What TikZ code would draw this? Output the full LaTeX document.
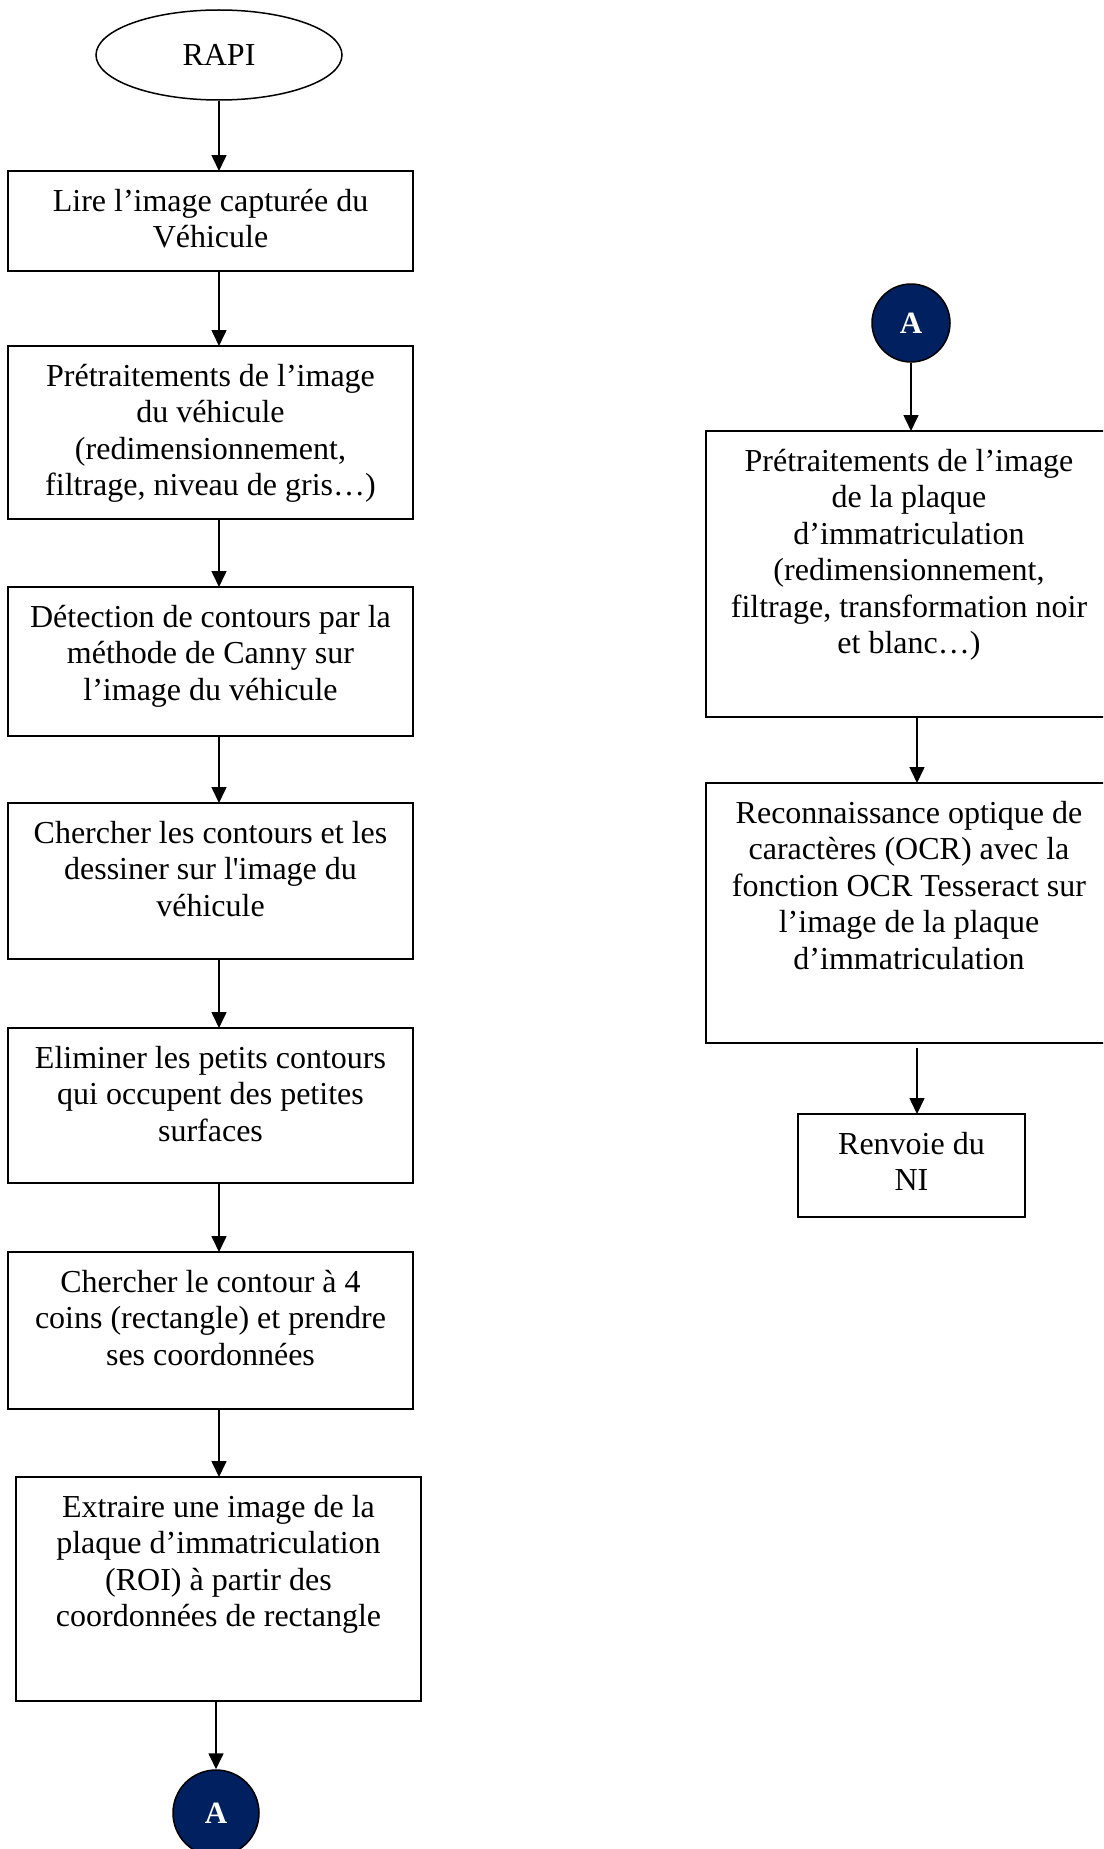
\documentclass[tikz,border=0pt]{standalone}
\usepackage{fontspec}
\setmainfont{Liberation Serif}
\usetikzlibrary{arrows.meta,shapes.geometric}
\definecolor{navy}{HTML}{002060}
\begin{document}
\begin{tikzpicture}[x=1pt,y=-1pt,
  box/.style={draw,line width=1.8pt,rectangle,inner sep=0pt,outer sep=0pt,anchor=north west},
  txt/.style={anchor=north,align=center,inner sep=0pt,font=\fontsize{32}{36.5}\selectfont},
  arr/.style={draw,line width=1.6pt,-{Triangle[width=15pt,length=16pt]}},
  conn/.style={draw=black,line width=1.5pt,fill=navy,circle,inner sep=0pt,text=white,font=\fontsize{31}{31}\selectfont\bfseries}
]
\useasboundingbox (0,0) rectangle (1103,1849);
\fill[white] (0,0) rectangle (1103,1849);
\clip (0,0) rectangle (1103,1849);

% left column
\node[draw,ellipse,line width=1.5pt,minimum width=246pt,minimum height=90pt,inner sep=0pt,font=\fontsize{32}{36.5}\selectfont] (start) at (219,55) {RAPI};

\node[box,minimum width=405pt,minimum height=100pt] (b1) at (8,171) {};
\node[box,minimum width=405pt,minimum height=173pt] (b2) at (8,346) {};
\node[box,minimum width=405pt,minimum height=149pt] (b3) at (8,587) {};
\node[box,minimum width=405pt,minimum height=156pt] (b4) at (8,803) {};
\node[box,minimum width=405pt,minimum height=155pt] (b5) at (8,1028) {};
\node[box,minimum width=405pt,minimum height=157pt] (b6) at (8,1252) {};
\node[box,minimum width=405pt,minimum height=224pt] (b7) at (16,1477) {};
\node[conn,minimum size=86pt] (cA1) at (216,1813) {A};

\node[txt] (t1) at ([yshift=-14.45pt]b1.north) {\strut Lire l’image capturée du\\Véhicule};
\node[txt] (t2) at ([yshift=-14.45pt]b2.north) {\strut Prétraitements de l’image\\du véhicule\\(redimensionnement,\\filtrage, niveau de gris…)};
\node[txt] (t3) at ([yshift=-14.45pt]b3.north) {\strut Détection de contours par la\\méthode de Canny sur\\l’image du véhicule};
\node[txt] (t4) at ([yshift=-14.45pt]b4.north) {\strut Chercher les contours et les\\dessiner sur l\textquotesingle image du\\véhicule};
\node[txt] (t5) at ([yshift=-14.45pt]b5.north) {\strut Eliminer les petits contours\\qui occupent des petites\\surfaces};
\node[txt] (t6) at ([yshift=-14.45pt]b6.north) {\strut Chercher le contour à 4\\coins (rectangle) et prendre\\ses coordonnées};
\node[txt] (t7) at ([yshift=-14.45pt]b7.north) {\strut Extraire une image de la\\plaque d’immatriculation\\(ROI) à partir des\\coordonnées de rectangle};

\draw[arr] (start) -- (b1.north -| start);
\draw[arr] (b1.south -| start) -- (b2.north -| start);
\draw[arr] (b2.south -| start) -- (b3.north -| start);
\draw[arr] (b3.south -| start) -- (b4.north -| start);
\draw[arr] (b4.south -| start) -- (b5.north -| start);
\draw[arr] (b5.south -| start) -- (b6.north -| start);
\draw[arr] (b6.south -| start) -- (b7.north -| start);
\draw[arr] (b7.south -| cA1) -- (cA1);

% right column
\node[conn,minimum size=78pt] (cA2) at (911,323) {A};
\node[box,minimum width=406pt,minimum height=286pt] (r1) at (706,431) {};
\node[box,minimum width=406pt,minimum height=260pt] (r2) at (706,783) {};
\node[box,minimum width=227pt,minimum height=103pt] (r3) at (798,1114) {};
\coordinate (rx) at (917,0);

\node[txt] (s1) at ([yshift=-14.45pt]r1.north) {\strut Prétraitements de l’image\\de la plaque\\d’immatriculation\\(redimensionnement,\\filtrage, transformation noir\\et blanc…)};
\node[txt] (s2) at ([yshift=-14.45pt]r2.north) {\strut Reconnaissance optique de\\caractères (OCR) avec la\\fonction OCR Tesseract sur\\l’image de la plaque\\d’immatriculation};
\node[txt] (s3) at ([yshift=-14.45pt]r3.north) {\strut Renvoie du\\NI};

\draw[arr] (cA2) -- (r1.north -| cA2);
\draw[arr] (r1.south -| rx) -- (r2.north -| rx);
\draw[arr] ([yshift=-5pt]r2.south -| rx) -- (r3.north -| rx);
\end{tikzpicture}
\end{document}
